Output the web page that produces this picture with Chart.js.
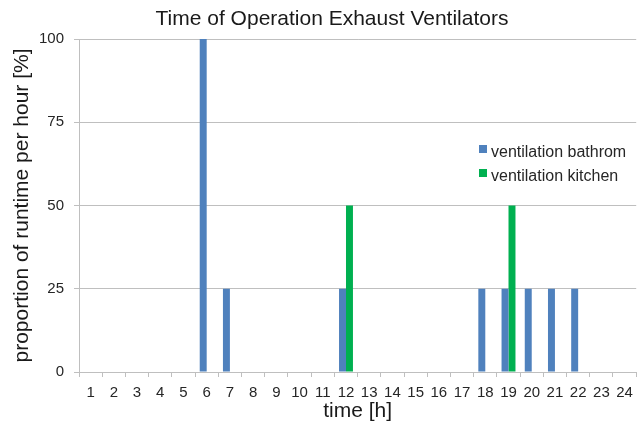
<!DOCTYPE html>
<html>
<head>
<meta charset="utf-8">
<script src="https://cdn.jsdelivr.net/npm/chart.js@4/dist/chart.umd.min.js"></script>
<style>
  html, body { margin: 0; padding: 0; background: #fff; }
  #wrap { width: 640px; height: 425px; position: relative; }
</style>
</head>
<body>
<div id="wrap"><canvas id="c"></canvas></div>
<script>
const hours = ["1", "2", "3", "4", "5", "6", "7", "8", "9", "10", "11", "12",
  "13", "14", "15", "16", "17", "18", "19", "20", "21", "22", "23", "24"];
const bathroom = [0, 0, 0, 0, 0, 100, 25, 0, 0, 0, 0, 25, 0, 0, 0, 0, 0, 25, 25, 25, 25, 25, 0, 0];
const kitchen = [0, 0, 0, 0, 0, 0, 0, 0, 0, 0, 0, 50, 0, 0, 0, 0, 0, 0, 50, 0, 0, 0, 0, 0];
const yTicks = [0, 25, 50, 75, 100];
const seriesNames = ["ventilation bathrom", "ventilation kitchen"];
const seriesColors = ["#4F81BD", "#00B050"];

const FONT = "'Liberation Sans', Arial, sans-serif";
const GRID = "#BFBFBF";

// title and legend are drawn by hand so they sit where Excel put them
const decor = {
  id: "decor",
  afterDraw(chart) {
    const ctx = chart.ctx;
    ctx.save();
    ctx.fillStyle = "#1a1a1a";
    ctx.font = "21px " + FONT;
    ctx.textAlign = "center";
    ctx.textBaseline = "alphabetic";
    ctx.fillText("Time of Operation Exhaust Ventilators", 332, 25);

    ctx.font = "16px " + FONT;
    ctx.textAlign = "left";
    chart.data.datasets.forEach((ds, i) => {
      const y = 145 + i * 24;
      ctx.fillStyle = ds.backgroundColor;
      ctx.fillRect(479, y, 8, 8);
      ctx.fillStyle = "#262626";
      ctx.fillText(ds.label, 491, y + 12);
    });
    ctx.restore();
  }
};

new Chart(document.getElementById("c"), {
  type: "bar",
  data: {
    labels: hours,
    datasets: [
      { label: seriesNames[0], data: bathroom, backgroundColor: seriesColors[0] },
      { label: seriesNames[1], data: kitchen, backgroundColor: seriesColors[1] },
    ],
  },
  options: {
    responsive: true,
    maintainAspectRatio: false,
    animation: false,
    categoryPercentage: 0.6,
    barPercentage: 1.0,
    layout: { padding: { top: 39, right: 3, bottom: 0, left: 0 } },
    plugins: {
      legend: { display: false },
      title: { display: false },
      tooltip: { enabled: false },
    },
    scales: {
      x: {
        grid: { drawOnChartArea: false, offset: true, tickLength: 5, color: GRID },
        border: { color: GRID },
        ticks: { color: "#262626", font: { family: FONT, size: 15 }, padding: 7, maxRotation: 0, autoSkip: false },
        title: { display: true, text: "time [h]", color: "#1a1a1a", font: { family: FONT, size: 21 }, padding: { top: 0, bottom: 1 } },
        afterFit(scale) { scale.height = 53; },
      },
      y: {
        min: 0,
        max: 100,
        afterBuildTicks(scale) { scale.ticks = yTicks.map(v => ({ value: v })); },
        grid: { color: GRID, tickLength: 5 },
        border: { color: GRID },
        ticks: { color: "#262626", font: { family: FONT, size: 15 }, padding: 10 },
        title: { display: true, text: "proportion of runtime per hour [%]", color: "#1a1a1a", font: { family: FONT, size: 21 }, padding: { top: 10, bottom: 0 } },
        afterFit(scale) { scale.width = 79; },
      },
    },
  },
  plugins: [decor],
});
</script>
</body>
</html>
